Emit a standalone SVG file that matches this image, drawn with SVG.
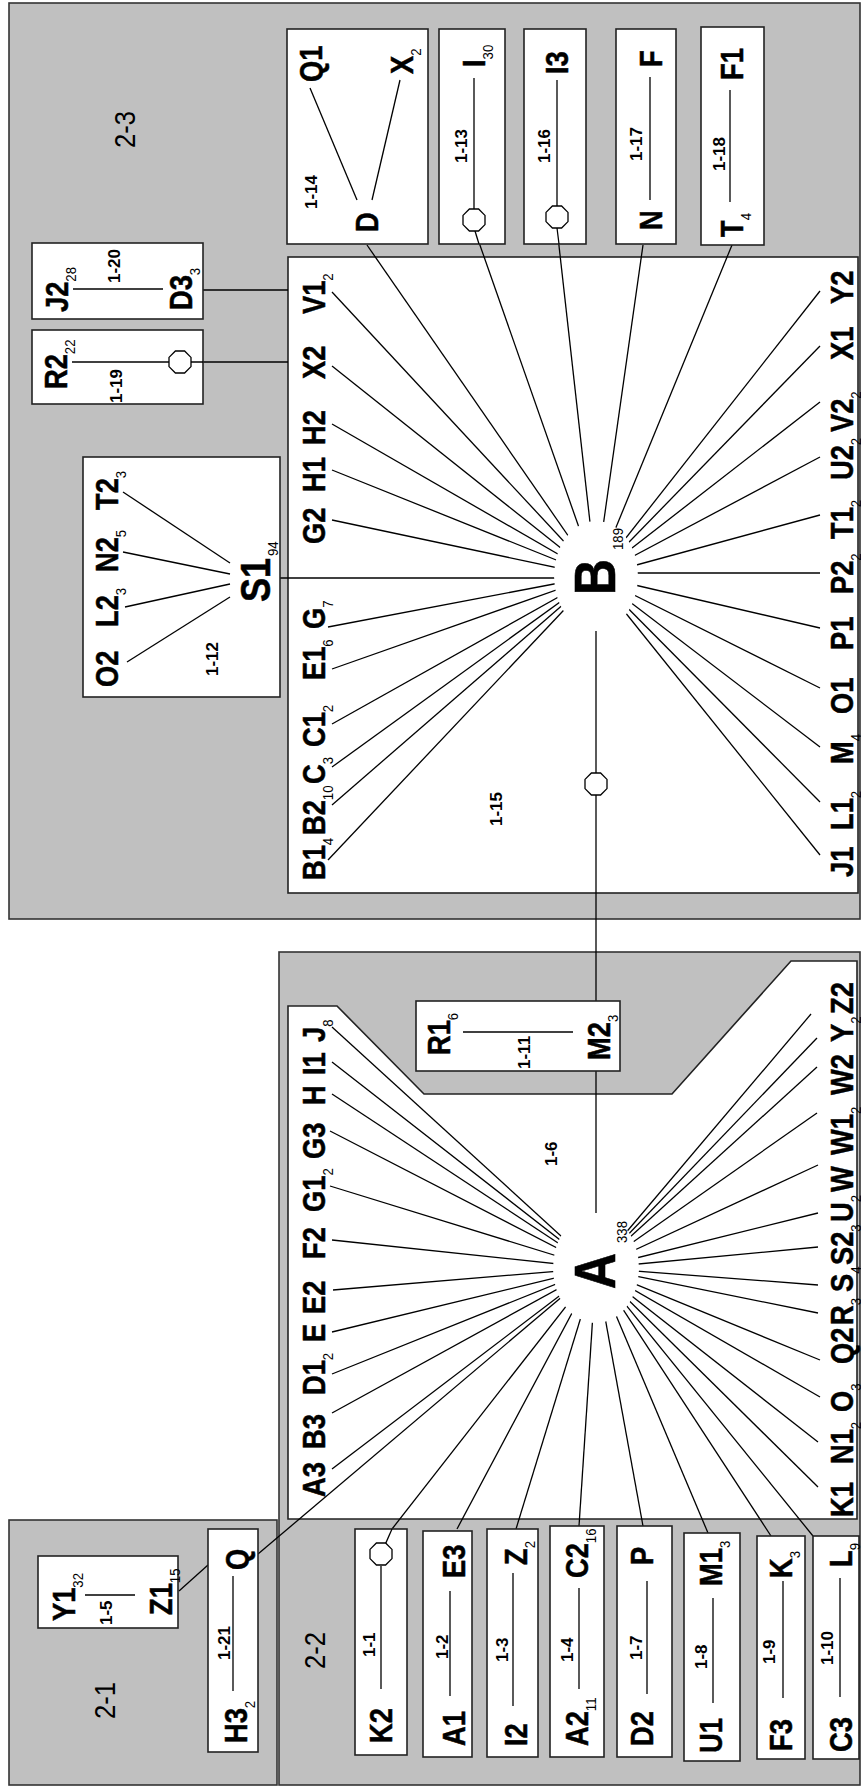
<svg xmlns="http://www.w3.org/2000/svg" xmlns:xlink="http://www.w3.org/1999/xlink" width="861" height="1786" viewBox="0 0 861 1786">
<style>
.pan{fill:#c0c0c0;stroke:#333;stroke-width:1.6}
.box{fill:#fff;stroke:#222;stroke-width:1.6}
.ln{stroke:#000;stroke-width:1.3;fill:none}
.oct{fill:#fff;stroke:#000;stroke-width:1.3}
text{font-family:"Liberation Sans",Arial,sans-serif;fill:#000}
.lb{font-size:31px;font-weight:bold;stroke:#000;stroke-width:0.5}
.big{font-size:58px;font-weight:bold;stroke:#000;stroke-width:0.6}
.mid{font-size:42px;font-weight:bold;stroke:#000;stroke-width:0.5}
.num{font-size:17px;font-weight:bold}
.pl{font-size:29px}
.s{font-size:15px;font-weight:normal;stroke:none}
.sb{font-size:15px}
</style>
<defs>
<polygon id="oct" class="oct" points="-4.6,-11 4.6,-11 11,-4.6 11,4.6 4.6,11 -4.6,11 -11,4.6 -11,-4.6"/>
</defs>
<rect width="861" height="1786" fill="#fff"/>
<g id="panels">
<g id="panel-2-3"><rect class="pan" x="9" y="3" width="851" height="916"/><text class="pl" transform="matrix(0 -.88 1 0 135 148)">2-3</text></g>
<g id="panel-2-2"><rect class="pan" x="279" y="952" width="581" height="833"/><text class="pl" transform="matrix(0 -.88 1 0 325 1669)">2-2</text></g>
<g id="panel-2-1"><rect class="pan" x="9" y="1520" width="268" height="265"/><text class="pl" transform="matrix(0 -.88 1 0 115 1719)">2-1</text></g>
</g>
<g id="box-1-15"><rect class="box" x="288" y="257" width="570" height="636"/><text class="num" transform="matrix(0 -1 1 0 502 826)">1-15</text></g>
<g id="box-1-6"><polygon class="box" points="288,1006 337,1006 424,1094 672,1094 791,961 857,961 857,1519 288,1519"/><text class="num" transform="matrix(0 -1 1 0 557 1166)">1-6</text></g>
<g id="connectors" class="ln">
<line x1="332" y1="292" x2="596" y2="576"/><line x1="332" y1="366" x2="596" y2="576"/><line x1="332" y1="424" x2="596" y2="576"/><line x1="332" y1="470" x2="596" y2="576"/><line x1="332" y1="520" x2="596" y2="576"/><line x1="328" y1="627" x2="596" y2="576"/><line x1="332" y1="669" x2="596" y2="576"/><line x1="332" y1="724" x2="596" y2="576"/><line x1="332" y1="767" x2="596" y2="576"/><line x1="332" y1="805" x2="596" y2="576"/><line x1="328" y1="860" x2="596" y2="576"/>
<line x1="280" y1="578" x2="596" y2="578"/>
<line x1="367" y1="245" x2="596" y2="576"/><line x1="475" y1="231" x2="596" y2="576"/><line x1="557" y1="228" x2="596" y2="576"/><line x1="643" y1="245" x2="596" y2="576"/><line x1="732" y1="245" x2="596" y2="576"/>
<line x1="820" y1="291" x2="596" y2="576"/><line x1="820" y1="346" x2="596" y2="576"/><line x1="820" y1="402" x2="596" y2="576"/><line x1="820" y1="457" x2="596" y2="576"/><line x1="820" y1="515" x2="596" y2="576"/><line x1="820" y1="573" x2="596" y2="573"/><line x1="820" y1="628" x2="596" y2="576"/><line x1="820" y1="688" x2="596" y2="576"/><line x1="820" y1="747" x2="596" y2="576"/><line x1="820" y1="802" x2="596" y2="576"/><line x1="820" y1="855" x2="596" y2="576"/>
<line x1="203" y1="290" x2="288" y2="290"/><line x1="203" y1="362" x2="288" y2="362"/>
<line x1="596" y1="576" x2="596" y2="1268"/>
<line x1="332" y1="1027" x2="596" y2="1268"/><line x1="332" y1="1062" x2="596" y2="1268"/><line x1="332" y1="1094" x2="596" y2="1268"/><line x1="330" y1="1131" x2="596" y2="1268"/><line x1="330" y1="1186" x2="596" y2="1268"/><line x1="332" y1="1240" x2="596" y2="1268"/><line x1="333" y1="1290" x2="596" y2="1268"/><line x1="332" y1="1332" x2="596" y2="1268"/><line x1="332" y1="1374" x2="596" y2="1268"/><line x1="332" y1="1413" x2="596" y2="1268"/><line x1="332" y1="1469" x2="596" y2="1268"/>
<line x1="258" y1="1554" x2="596" y2="1268"/><line x1="392" y1="1529" x2="596" y2="1268"/>
<line x1="457" y1="1529" x2="596" y2="1268"/><line x1="516" y1="1529" x2="596" y2="1268"/><line x1="579" y1="1526" x2="596" y2="1268"/><line x1="643" y1="1526" x2="596" y2="1268"/><line x1="708" y1="1533" x2="596" y2="1268"/><line x1="771" y1="1536" x2="596" y2="1268"/><line x1="813" y1="1536" x2="596" y2="1268"/>
<line x1="811" y1="1014" x2="596" y2="1268"/><line x1="817" y1="1038" x2="596" y2="1268"/><line x1="817" y1="1067" x2="596" y2="1268"/><line x1="817" y1="1113" x2="596" y2="1268"/><line x1="818" y1="1165" x2="596" y2="1268"/><line x1="818" y1="1213" x2="596" y2="1268"/><line x1="818" y1="1247" x2="596" y2="1268"/><line x1="818" y1="1285" x2="596" y2="1268"/><line x1="818" y1="1313" x2="596" y2="1268"/><line x1="820" y1="1360" x2="596" y2="1268"/><line x1="820" y1="1397" x2="596" y2="1268"/><line x1="818" y1="1442" x2="596" y2="1268"/><line x1="818" y1="1487" x2="596" y2="1268"/>
<line x1="179" y1="1591" x2="208" y2="1565"/>
<use xlink:href="#oct" x="596" y="784"/>
</g>
<g id="node-B">
<ellipse cx="596" cy="576" rx="42" ry="55" fill="#fff"/>
<text class="big" transform="matrix(0 -.86 1 0 615 595)">B</text>
<text class="sb" transform="matrix(0 -.88 1 0 623 550)">189</text>
<text class="lb" transform="matrix(0 -.88 1 0 325 314)">V1<tspan class="s" dy="8">2</tspan></text>
<text class="lb" transform="matrix(0 -.88 1 0 325 379)">X2</text>
<text class="lb" transform="matrix(0 -.88 1 0 325 445)">H2</text>
<text class="lb" transform="matrix(0 -.88 1 0 325 492)">H1</text>
<text class="lb" transform="matrix(0 -.88 1 0 325 544)">G2</text>
<text class="lb" transform="matrix(0 -.88 1 0 325 629)">G<tspan class="s" dy="8">7</tspan></text>
<text class="lb" transform="matrix(0 -.88 1 0 325 680)">E1<tspan class="s" dy="8">6</tspan></text>
<text class="lb" transform="matrix(0 -.88 1 0 325 747)">C1<tspan class="s" dy="8">2</tspan></text>
<text class="lb" transform="matrix(0 -.88 1 0 325 784)">C<tspan class="s" dy="8">3</tspan></text>
<text class="lb" transform="matrix(0 -.88 1 0 325 835)">B2<tspan class="s" dy="8">10</tspan></text>
<text class="lb" transform="matrix(0 -.88 1 0 325 880)">B1<tspan class="s" dy="8">4</tspan></text>
<text class="lb" transform="matrix(0 -.88 1 0 853 304)">Y2</text>
<text class="lb" transform="matrix(0 -.88 1 0 853 360)">X1</text>
<text class="lb" transform="matrix(0 -.88 1 0 853 432)">V2<tspan class="s" dy="8">2</tspan></text>
<text class="lb" transform="matrix(0 -.88 1 0 853 480)">U2<tspan class="s" dy="8">2</tspan></text>
<text class="lb" transform="matrix(0 -.88 1 0 853 539)">T1<tspan class="s" dy="8">2</tspan></text>
<text class="lb" transform="matrix(0 -.88 1 0 853 594)">P2<tspan class="s" dy="8">2</tspan></text>
<text class="lb" transform="matrix(0 -.88 1 0 853 650)">P1</text>
<text class="lb" transform="matrix(0 -.88 1 0 853 714)">O1</text>
<text class="lb" transform="matrix(0 -.88 1 0 853 764)">M<tspan class="s" dy="8">4</tspan></text>
<text class="lb" transform="matrix(0 -.88 1 0 853 830)">L1<tspan class="s" dy="8">2</tspan></text>
<text class="lb" transform="matrix(0 -.88 1 0 853 877)">J1</text>
</g>
<g id="node-A">
<ellipse cx="596" cy="1268" rx="43" ry="55" fill="#fff"/>
<text class="big" transform="matrix(0 -.86 1 0 615 1289)">A</text>
<text class="sb" transform="matrix(0 -.88 1 0 627 1243)">338</text>
<text class="lb" transform="matrix(0 -.88 1 0 325 1042)">J<tspan class="s" dy="8">8</tspan></text>
<text class="lb" transform="matrix(0 -.88 1 0 325 1075)">I1</text>
<text class="lb" transform="matrix(0 -.88 1 0 325 1105)">H</text>
<text class="lb" transform="matrix(0 -.88 1 0 325 1159)">G3</text>
<text class="lb" transform="matrix(0 -.88 1 0 325 1212)">G1<tspan class="s" dy="8">2</tspan></text>
<text class="lb" transform="matrix(0 -.88 1 0 325 1259)">F2</text>
<text class="lb" transform="matrix(0 -.88 1 0 325 1314)">E2</text>
<text class="lb" transform="matrix(0 -.88 1 0 325 1342)">E</text>
<text class="lb" transform="matrix(0 -.88 1 0 325 1395)">D1<tspan class="s" dy="8">2</tspan></text>
<text class="lb" transform="matrix(0 -.88 1 0 325 1449)">B3</text>
<text class="lb" transform="matrix(0 -.88 1 0 325 1497)">A3</text>
<text class="lb" transform="matrix(0 -.88 1 0 853 1014)">Z2</text>
<text class="lb" transform="matrix(0 -.88 1 0 853 1042)">Y<tspan class="s" dy="8">2</tspan></text>
<text class="lb" transform="matrix(0 -.88 1 0 853 1095)">W2</text>
<text class="lb" transform="matrix(0 -.88 1 0 853 1155)">W1<tspan class="s" dy="8">2</tspan></text>
<text class="lb" transform="matrix(0 -.88 1 0 853 1192)">W</text>
<text class="lb" transform="matrix(0 -.88 1 0 853 1222)">U<tspan class="s" dy="8">2</tspan></text>
<text class="lb" transform="matrix(0 -.88 1 0 853 1265)">S2<tspan class="s" dy="8">3</tspan></text>
<text class="lb" transform="matrix(0 -.88 1 0 853 1292)">S<tspan class="s" dy="8">4</tspan></text>
<text class="lb" transform="matrix(0 -.88 1 0 853 1325)">R<tspan class="s" dy="8">3</tspan></text>
<text class="lb" transform="matrix(0 -.88 1 0 853 1364)">Q2</text>
<text class="lb" transform="matrix(0 -.88 1 0 853 1412)">O<tspan class="s" dy="8">3</tspan></text>
<text class="lb" transform="matrix(0 -.88 1 0 853 1464)">N1<tspan class="s" dy="8">2</tspan></text>
<text class="lb" transform="matrix(0 -.88 1 0 853 1517)">K1</text>
</g>
<g id="box-1-14"><rect class="box" x="287" y="29" width="141" height="215"/>
<line class="ln" x1="310" y1="88" x2="357" y2="200"/><line class="ln" x1="400" y1="80" x2="372" y2="200"/>
<text class="lb" transform="matrix(0 -.88 1 0 322 82)">Q1</text>
<text class="lb" transform="matrix(0 -.88 1 0 413 74)">X<tspan class="s" dy="8">2</tspan></text>
<text class="lb" transform="matrix(0 -.88 1 0 378 232)">D</text>
<text class="num" transform="matrix(0 -1 1 0 317 209)">1-14</text></g>
<g id="box-1-13"><rect class="box" x="439" y="29" width="66" height="215"/>
<line class="ln" x1="474" y1="78" x2="474" y2="209"/><line class="ln" x1="475" y1="231" x2="479" y2="244"/><use xlink:href="#oct" x="474" y="220"/>
<text class="lb" transform="matrix(0 -.88 1 0 485 67)">I<tspan class="s" dy="8">30</tspan></text>
<text class="num" transform="matrix(0 -1 1 0 467 163)">1-13</text></g>
<g id="box-1-16"><rect class="box" x="524" y="29" width="62" height="215"/>
<line class="ln" x1="557" y1="80" x2="557" y2="206"/><line class="ln" x1="557" y1="228" x2="559" y2="244"/><use xlink:href="#oct" x="557" y="217"/>
<text class="lb" transform="matrix(0 -.88 1 0 568 74)">I3</text>
<text class="num" transform="matrix(0 -1 1 0 550 163)">1-16</text></g>
<g id="box-1-17"><rect class="box" x="616" y="29" width="60" height="215"/>
<line class="ln" x1="650" y1="77" x2="650" y2="200"/>
<text class="lb" transform="matrix(0 -.88 1 0 662 230)">N</text>
<text class="lb" transform="matrix(0 -.88 1 0 662 67)">F</text>
<text class="num" transform="matrix(0 -1 1 0 642 161)">1-17</text></g>
<g id="box-1-18"><rect class="box" x="701" y="27" width="63" height="218"/>
<line class="ln" x1="730" y1="90" x2="730" y2="202"/>
<text class="lb" transform="matrix(0 -.88 1 0 743 237)">T<tspan class="s" dy="8">4</tspan></text>
<text class="lb" transform="matrix(0 -.88 1 0 743 80)">F1</text>
<text class="num" transform="matrix(0 -1 1 0 725 171)">1-18</text></g>
<g id="box-1-20"><rect class="box" x="32" y="243" width="171" height="76"/>
<line class="ln" x1="73" y1="289" x2="163" y2="289"/>
<text class="lb" transform="matrix(0 -.88 1 0 68 312)">J2<tspan class="s" dy="8">28</tspan></text>
<text class="lb" transform="matrix(0 -.88 1 0 192 310)">D3<tspan class="s" dy="8">3</tspan></text>
<text class="num" transform="matrix(0 -1 1 0 120 283)">1-20</text></g>
<g id="box-1-19"><rect class="box" x="32" y="330" width="171" height="74"/>
<line class="ln" x1="72" y1="362" x2="203" y2="362"/><use xlink:href="#oct" x="180" y="362"/>
<text class="lb" transform="matrix(0 -.88 1 0 67 389)">R2<tspan class="s" dy="8">22</tspan></text>
<text class="num" transform="matrix(0 -1 1 0 122 403)">1-19</text></g>
<g id="box-1-12"><rect class="box" x="83" y="457" width="197" height="240"/>
<line class="ln" x1="123" y1="492" x2="230" y2="563"/><line class="ln" x1="123" y1="552" x2="230" y2="574"/><line class="ln" x1="125" y1="607" x2="230" y2="584"/><line class="ln" x1="127" y1="662" x2="230" y2="597"/>
<text class="lb" transform="matrix(0 -.88 1 0 118 687)">O2</text>
<text class="lb" transform="matrix(0 -.88 1 0 118 627)">L2<tspan class="s" dy="8">3</tspan></text>
<text class="lb" transform="matrix(0 -.88 1 0 118 572)">N2<tspan class="s" dy="8">5</tspan></text>
<text class="lb" transform="matrix(0 -.88 1 0 118 510)">T2<tspan class="s" dy="8">3</tspan></text>
<text class="mid" transform="matrix(0 -.86 1 0 270 602)">S1</text>
<text class="sb" transform="matrix(0 -.88 1 0 278 556)">94</text>
<text class="num" transform="matrix(0 -1 1 0 218 676)">1-12</text></g>
<g id="box-1-11"><rect class="box" x="416" y="1001" width="204" height="70"/>
<line class="ln" x1="463" y1="1032" x2="573" y2="1032"/>
<text class="lb" transform="matrix(0 -.88 1 0 450 1055)">R1<tspan class="s" dy="8">6</tspan></text>
<text class="lb" transform="matrix(0 -.88 1 0 610 1060)">M2<tspan class="s" dy="8">3</tspan></text>
<text class="num" transform="matrix(0 -1 1 0 530 1069)">1-11</text></g>
<g id="box-1-5"><rect class="box" x="38" y="1556" width="140" height="72"/>
<line class="ln" x1="85" y1="1595" x2="135" y2="1595"/>
<text class="lb" transform="matrix(0 -.88 1 0 75 1621)">Y1<tspan class="s" dy="8">32</tspan></text>
<text class="lb" transform="matrix(0 -.88 1 0 172 1615)">Z1<tspan class="s" dy="8">15</tspan></text>
<text class="num" transform="matrix(0 -1 1 0 112 1625)">1-5</text></g>
<g id="box-1-21"><rect class="box" x="208" y="1529" width="50" height="223"/>
<line class="ln" x1="233" y1="1576" x2="233" y2="1691"/>
<text class="lb" transform="matrix(0 -.88 1 0 247 1743)">H3<tspan class="s" dy="8">2</tspan></text>
<text class="lb" transform="matrix(0 -.88 1 0 248 1570)">Q</text>
<text class="num" transform="matrix(0 -1 1 0 230 1660)">1-21</text></g>
<g id="box-1-1"><rect class="box" x="355" y="1529" width="52" height="226"/>
<line class="ln" x1="381" y1="1566" x2="381" y2="1689"/><line class="ln" x1="381" y1="1554" x2="392" y2="1529"/><use xlink:href="#oct" x="381" y="1554"/>
<text class="lb" transform="matrix(0 -.88 1 0 392 1743)">K2</text>
<text class="num" transform="matrix(0 -1 1 0 375 1657)">1-1</text></g>
<g id="box-1-2"><rect class="box" x="423" y="1531" width="49" height="226"/>
<line class="ln" x1="450" y1="1591" x2="450" y2="1696"/>
<text class="lb" transform="matrix(0 -.88 1 0 465 1746)">A1</text>
<text class="lb" transform="matrix(0 -.88 1 0 465 1578)">E3</text>
<text class="num" transform="matrix(0 -1 1 0 448 1659)">1-2</text></g>
<g id="box-1-3"><rect class="box" x="487" y="1529" width="51" height="228"/>
<line class="ln" x1="513" y1="1573" x2="513" y2="1706"/>
<text class="lb" transform="matrix(0 -.88 1 0 527 1746)">I2</text>
<text class="lb" transform="matrix(0 -.88 1 0 527 1565)">Z<tspan class="s" dy="8">2</tspan></text>
<text class="num" transform="matrix(0 -1 1 0 508 1662)">1-3</text></g>
<g id="box-1-4"><rect class="box" x="550" y="1526" width="54" height="231"/>
<line class="ln" x1="579" y1="1588" x2="579" y2="1689"/>
<text class="lb" transform="matrix(0 -.88 1 0 588 1746)">A2<tspan class="s" dy="8">11</tspan></text>
<text class="lb" transform="matrix(0 -.88 1 0 588 1578)">C2<tspan class="s" dy="8">16</tspan></text>
<text class="num" transform="matrix(0 -1 1 0 573 1662)">1-4</text></g>
<g id="box-1-7"><rect class="box" x="617" y="1526" width="55" height="231"/>
<line class="ln" x1="647" y1="1581" x2="647" y2="1694"/>
<text class="lb" transform="matrix(0 -.88 1 0 653 1746)">D2</text>
<text class="lb" transform="matrix(0 -.88 1 0 653 1565)">P</text>
<text class="num" transform="matrix(0 -1 1 0 642 1660)">1-7</text></g>
<g id="box-1-8"><rect class="box" x="684" y="1533" width="56" height="228"/>
<line class="ln" x1="713" y1="1598" x2="713" y2="1703"/>
<text class="lb" transform="matrix(0 -.88 1 0 722 1753)">U1</text>
<text class="lb" transform="matrix(0 -.88 1 0 722 1586)">M1<tspan class="s" dy="8">3</tspan></text>
<text class="num" transform="matrix(0 -1 1 0 707 1669)">1-8</text></g>
<g id="box-1-9"><rect class="box" x="757" y="1536" width="48" height="223"/>
<line class="ln" x1="783" y1="1581" x2="783" y2="1698"/>
<text class="lb" transform="matrix(0 -.88 1 0 792 1751)">F3</text>
<text class="lb" transform="matrix(0 -.88 1 0 792 1578)">K<tspan class="s" dy="8">3</tspan></text>
<text class="num" transform="matrix(0 -1 1 0 775 1664)">1-9</text></g>
<g id="box-1-10"><rect class="box" x="813" y="1536" width="46" height="223"/>
<line class="ln" x1="840" y1="1578" x2="840" y2="1697"/>
<text class="lb" transform="matrix(0 -.88 1 0 852 1752)">C3</text>
<text class="lb" transform="matrix(0 -.88 1 0 852 1567)">L<tspan class="s" dy="8">9</tspan></text>
<text class="num" transform="matrix(0 -1 1 0 833 1665)">1-10</text></g>
</svg>
